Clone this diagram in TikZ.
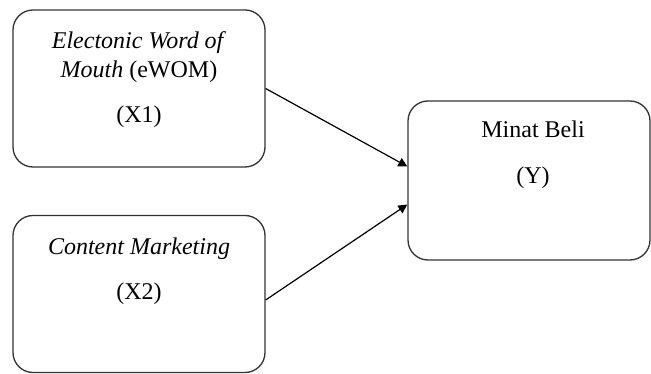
\documentclass[tikz,border=0pt]{standalone}
\usepackage{fontspec}
\setmainfont{Liberation Serif}
\usetikzlibrary{arrows.meta}
\begin{document}
\begin{tikzpicture}[x=1pt,y=-1pt,
  box/.style={draw=black!80,line width=1.3pt,rounded corners=20pt,inner sep=0pt},
  lbl/.style={font=\fontsize{24}{28}\selectfont,text=black,inner sep=0pt,anchor=base},
  conn/.style={line width=1.2pt,-{Triangle[length=9pt,width=9pt]}}]
\useasboundingbox (0,0) rectangle (651,374);
\node[box,minimum width=252pt,minimum height=157pt] (b1) at (139,88.5) {};
\node[box,minimum width=252pt,minimum height=157pt] (b2) at (139,294) {};
\node[box,minimum width=242pt,minimum height=159pt] (b3) at (529,180.5) {};
\node[lbl] (t1a) at (139,49) {\textit{Electonic Word of}};
\node[lbl] (t1b) at (139,78) {\textit{Mouth} (eWOM)};
\node[lbl] (t1c) at (139,123) {(X1)};
\node[lbl] (t2a) at (139,255) {\textit{Content Marketing}};
\node[lbl] (t2b) at (139,299) {(X2)};
\node[lbl] (t3a) at (533,138) {Minat Beli};
\node[lbl] (t3b) at (533,184) {(Y)};
\draw[conn] (b1.east) -- ([yshift=14pt]b3.west);
\draw[conn] ([yshift=-6pt]b2.east) -- ([yshift=-24pt]b3.west);
\end{tikzpicture}
\end{document}
